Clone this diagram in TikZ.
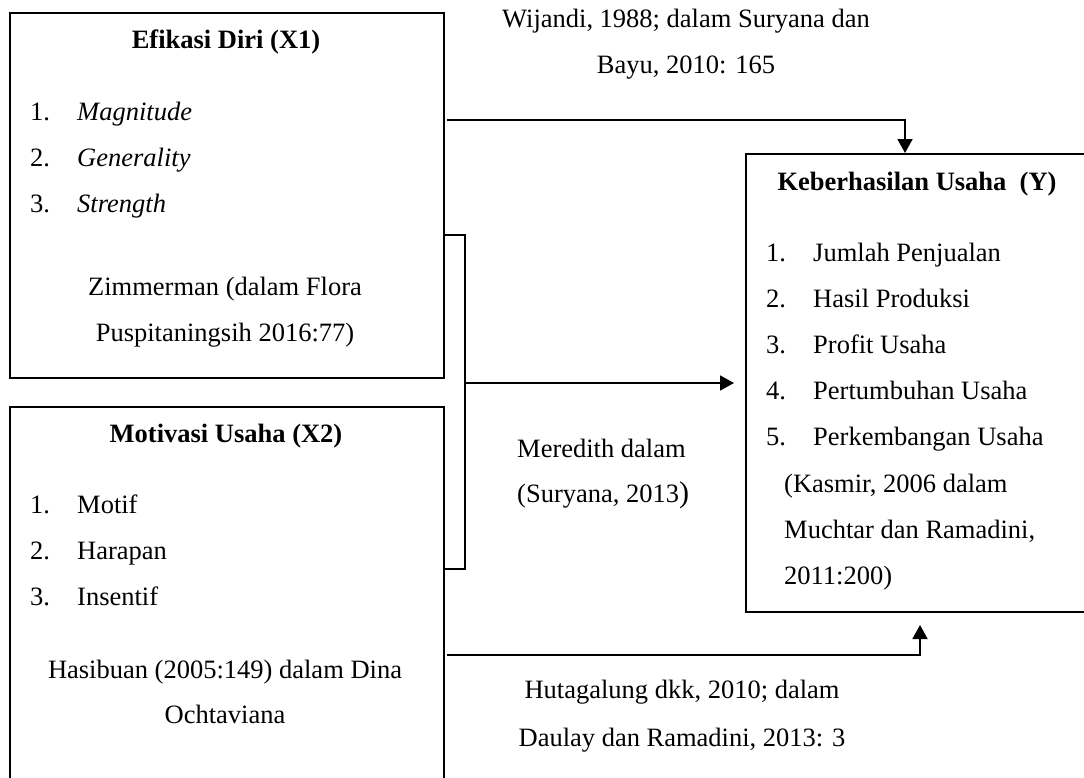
\documentclass[tikz,border=0pt]{standalone}
\usepackage{fontspec}
\setmainfont{Liberation Serif}
\usetikzlibrary{arrows.meta}
\begin{document}
\begin{tikzpicture}[x=1pt,y=-1pt,
  box/.style={draw, line width=1.6pt, inner sep=0pt, anchor=north west},
  txt/.style={inner sep=0pt, font=\fontsize{26.5}{46}\selectfont},
  ttl/.style={inner sep=0pt, font=\fontsize{26.5}{46}\selectfont\bfseries, anchor=base},
  conn/.style={line width=1.8pt},
  arr/.style={conn, -{Triangle[length=14pt,width=15pt]}}]
\useasboundingbox (0,0) rectangle (1084,777);
\begin{scope}
\clip (0,0) rectangle (1084,777);
% boxes
\node[box, minimum width=434pt, minimum height=365pt] (x1) at (9,12) {};
\node[box, minimum width=434pt, minimum height=400pt] (x2) at (9,406) {};
\node[box, minimum width=370pt, minimum height=458pt] (y) at (745,153) {};
\end{scope}
% X1 content
\node[ttl] (x1t) at (226,48) {Efikasi Diri (X1)};
\foreach \t [count=\n] in {Magnitude,Generality,Strength}{
  \node[txt, anchor=base west] (x1n\n) at (30,{74+46*\n}) {\n.};
  \node[txt, anchor=base west] (x1i\n) at (77,{74+46*\n}) {\textit{\t}};
}
\node[txt, anchor=base] (x1r1) at (225,295) {Zimmerman (dalam Flora};
\node[txt, anchor=base] (x1r2) at (225,341) {Puspitaningsih 2016:77)};
% X2 content
\node[ttl] (x2t) at (226,442) {Motivasi Usaha (X2)};
\foreach \t [count=\n] in {Motif,Harapan,Insentif}{
  \node[txt, anchor=base west] (x2n\n) at (30,{467+46*\n}) {\n.};
  \node[txt, anchor=base west] (x2i\n) at (77,{467+46*\n}) {\t};
}
\node[txt, anchor=base] (x2r1) at (225,678) {Hasibuan (2005:149) dalam Dina};
\node[txt, anchor=base] (x2r2) at (225,723) {Ochtaviana};
% Y content
\node[ttl] (yt) at (917,190) {Keberhasilan Usaha\ \ (Y)};
\foreach \t [count=\n] in {Jumlah Penjualan,Hasil Produksi,Profit Usaha,Pertumbuhan Usaha,Perkembangan Usaha}{
  \node[txt, anchor=base west] (yn\n) at (766,{215+46*\n}) {\n.};
  \node[txt, anchor=base west] (yi\n) at (813,{215+46*\n}) {\t};
}
\node[txt, anchor=base west] (yr1) at (784,492) {(Kasmir, 2006 dalam};
\node[txt, anchor=base west] (yr2) at (784,538) {Muchtar dan Ramadini,};
\node[txt, anchor=base west] (yr3) at (784,584) {2011:200)};
% labels
\node[txt, anchor=base] (l1a) at (686,27) {Wijandi, 1988; dalam Suryana dan};
\node[txt, anchor=base] (l1b) at (686,73) {Bayu, 2010: 165};
\node[txt, anchor=base west] (l2a) at (517,457) {Meredith dalam};
\node[txt, anchor=base west] (l2b) at (517,502) {(Suryana, 2013{\fontsize{30}{46}\selectfont)}};
\node[txt, anchor=base] (l3a) at (682,698) {Hutagalung dkk, 2010; dalam};
\node[txt, anchor=base] (l3b) at (682,746) {Daulay dan Ramadini, 2013: 3};
% connectors
\coordinate (ta) at (447,120);
\coordinate (tb) at (905,120);
\draw[arr] (ta) -- (tb) -- (tb |- y.north);
\coordinate (b1) at (445,235);
\coordinate (b2) at (465,235);
\coordinate (b3) at (465,569);
\coordinate (b4) at (445,569);
\draw[conn] (b1) -- (b2) -- (b3) -- (b4);
\coordinate (m1) at (465,383);
\coordinate (m2) at (734,383);
\draw[arr] (m1) -- (m2);
\coordinate (u1) at (447,655);
\coordinate (u2) at (920,655);
\coordinate (u3) at (920,625);
\draw[arr] (u1) -- (u2) -- (u3);
\end{tikzpicture}
\end{document}
